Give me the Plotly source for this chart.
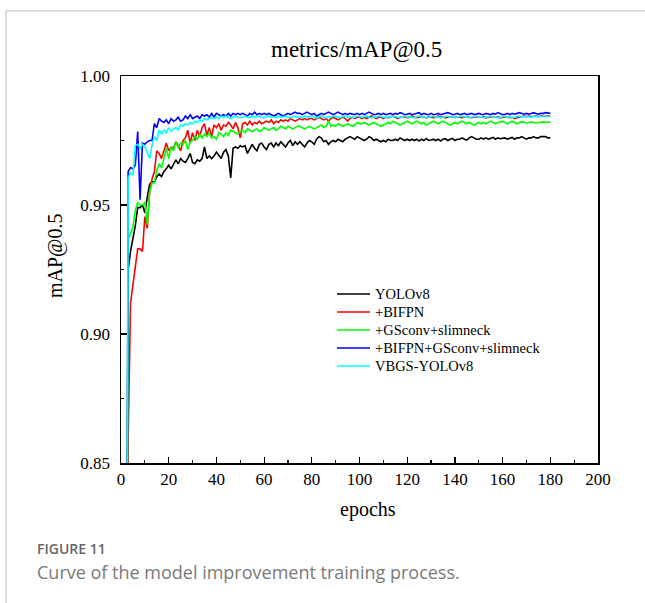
import plotly.graph_objects as go

epochs = list(range(1, 181))

yolov8 = [
    0.400, 0.700, 0.925, 0.932, 0.937, 0.942, 0.949, 0.949, 0.950, 0.947,
    0.953, 0.958, 0.959, 0.959, 0.961, 0.962, 0.961, 0.963, 0.964, 0.9655,
    0.964, 0.966, 0.9675, 0.966, 0.968, 0.967, 0.9665, 0.968, 0.970, 0.9665,
    0.966, 0.9675, 0.967, 0.968, 0.9725, 0.968, 0.969, 0.968, 0.969, 0.9705,
    0.969, 0.968, 0.9705, 0.9715, 0.969, 0.9605, 0.972, 0.9725, 0.972, 0.973,
    0.9725, 0.973, 0.970, 0.9715, 0.9735, 0.972, 0.971, 0.9735, 0.974, 0.9725,
    0.9715, 0.9735, 0.974, 0.9725, 0.974, 0.973, 0.9745, 0.9735, 0.9725, 0.974,
    0.975, 0.973, 0.9745, 0.9735, 0.9745, 0.9735, 0.9725, 0.974, 0.975, 0.9745,
    0.9735, 0.9755, 0.9765, 0.976, 0.9745, 0.975, 0.9735, 0.9745, 0.975, 0.9745,
    0.9755, 0.975, 0.9745, 0.9755, 0.976, 0.9765, 0.976, 0.9755, 0.9765, 0.976,
    0.9755, 0.975, 0.9755, 0.9765, 0.976, 0.975, 0.9755, 0.975, 0.9745, 0.975,
    0.9745, 0.9755, 0.975, 0.975, 0.9755, 0.975, 0.976, 0.9755, 0.975, 0.9755,
    0.975, 0.9755, 0.975, 0.9755, 0.9748, 0.9755, 0.975, 0.9758, 0.975, 0.9752,
    0.9755, 0.975, 0.9755, 0.9748, 0.9755, 0.9757, 0.975, 0.9755, 0.9758, 0.975,
    0.9755, 0.9755, 0.976, 0.9755, 0.9752, 0.976, 0.9765, 0.976, 0.9755, 0.9755,
    0.976, 0.9755, 0.976, 0.9755, 0.976, 0.9762, 0.9755, 0.976, 0.9757, 0.976,
    0.976, 0.9755, 0.976, 0.9762, 0.9755, 0.976, 0.976, 0.9765, 0.976, 0.9755,
    0.976, 0.976, 0.9765, 0.976, 0.976, 0.9765, 0.9765, 0.9765, 0.976, 0.976,
]

bifpn = [
    0.300, 0.550, 0.860, 0.912, 0.920, 0.926, 0.933, 0.933, 0.932, 0.9455,
    0.941, 0.955, 0.960, 0.963, 0.971, 0.970, 0.968, 0.9715, 0.974, 0.971,
    0.9725, 0.972, 0.9745, 0.973, 0.971, 0.975, 0.976, 0.979, 0.974, 0.978,
    0.975, 0.979, 0.9765, 0.980, 0.9815, 0.977, 0.980, 0.9765, 0.981, 0.980,
    0.9815, 0.979, 0.981, 0.9805, 0.982, 0.981, 0.9795, 0.982, 0.980, 0.976,
    0.9815, 0.982, 0.981, 0.9825, 0.981, 0.982, 0.9815, 0.9825, 0.9815, 0.982,
    0.9825, 0.982, 0.983, 0.9815, 0.9825, 0.982, 0.983, 0.9825, 0.983, 0.9825,
    0.9835, 0.983, 0.9825, 0.983, 0.9835, 0.983, 0.9835, 0.983, 0.9835, 0.9835,
    0.983, 0.9835, 0.984, 0.9835, 0.983, 0.9835, 0.9825, 0.9835, 0.984, 0.9835,
    0.983, 0.9835, 0.984, 0.9835, 0.9825, 0.9835, 0.984, 0.9835, 0.984, 0.984,
    0.9835, 0.984, 0.9835, 0.984, 0.9845, 0.984, 0.9835, 0.984, 0.984, 0.9835,
    0.984, 0.9838, 0.984, 0.9845, 0.984, 0.9835, 0.984, 0.9842, 0.984, 0.9838,
    0.984, 0.9845, 0.984, 0.9838, 0.984, 0.9842, 0.984, 0.9838, 0.9842, 0.984,
    0.9838, 0.984, 0.9845, 0.984, 0.9842, 0.9838, 0.984, 0.9842, 0.984, 0.984,
    0.9842, 0.984, 0.9838, 0.984, 0.9842, 0.984, 0.9838, 0.984, 0.9842, 0.984,
    0.984, 0.9842, 0.9838, 0.984, 0.9842, 0.984, 0.984, 0.9842, 0.9838, 0.984,
    0.9842, 0.984, 0.9838, 0.984, 0.9835, 0.9838, 0.984, 0.9842, 0.9845, 0.9842,
    0.9845, 0.9842, 0.9845, 0.9845, 0.9842, 0.9845, 0.9847, 0.9845, 0.9845, 0.9845,
]

gsconv = [
    0.300, 0.600, 0.937, 0.939, 0.9415, 0.948, 0.951, 0.950, 0.950, 0.951,
    0.9425, 0.955, 0.9585, 0.9585, 0.9635, 0.966, 0.9645, 0.968, 0.972, 0.968,
    0.9725, 0.971, 0.9745, 0.972, 0.974, 0.9735, 0.975, 0.9715, 0.9745, 0.975,
    0.9765, 0.9755, 0.9775, 0.976, 0.9775, 0.9765, 0.978, 0.976, 0.9765, 0.9755,
    0.978, 0.9775, 0.9765, 0.978, 0.977, 0.979, 0.9785, 0.978, 0.9775, 0.9785,
    0.979, 0.978, 0.9795, 0.979, 0.9785, 0.979, 0.9795, 0.9785, 0.979, 0.980,
    0.9795, 0.979, 0.9795, 0.980, 0.979, 0.9795, 0.9805, 0.980, 0.9795, 0.9805,
    0.980, 0.9795, 0.980, 0.9805, 0.9805, 0.980, 0.9795, 0.980, 0.9805, 0.980,
    0.9795, 0.980, 0.9805, 0.981, 0.980, 0.9805, 0.9825, 0.9805, 0.981, 0.9805,
    0.9815, 0.981, 0.9805, 0.981, 0.9815, 0.981, 0.9805, 0.981, 0.982, 0.9815,
    0.9815, 0.982, 0.9815, 0.981, 0.9815, 0.982, 0.9815, 0.981, 0.9805, 0.981,
    0.9815, 0.982, 0.9815, 0.9825, 0.982, 0.9815, 0.981, 0.9815, 0.982, 0.9825,
    0.982, 0.9815, 0.982, 0.9825, 0.982, 0.9815, 0.982, 0.981, 0.9815, 0.982,
    0.9825, 0.982, 0.9815, 0.982, 0.9825, 0.982, 0.9815, 0.981, 0.9815, 0.982,
    0.9815, 0.982, 0.9825, 0.982, 0.9815, 0.982, 0.9815, 0.981, 0.9815, 0.982,
    0.9815, 0.982, 0.9815, 0.982, 0.9825, 0.982, 0.9815, 0.982, 0.982, 0.9825,
    0.982, 0.9815, 0.982, 0.9825, 0.982, 0.9815, 0.982, 0.9822, 0.982, 0.9818,
    0.982, 0.9822, 0.982, 0.9818, 0.982, 0.9822, 0.9822, 0.982, 0.9822, 0.9822,
]

bifpn_gsconv = [
    0.300, 0.600, 0.963, 0.9645, 0.964, 0.9655, 0.9785, 0.952, 0.974, 0.9735,
    0.9745, 0.975, 0.975, 0.9815, 0.980, 0.9835, 0.9825, 0.982, 0.983, 0.9815,
    0.9835, 0.9825, 0.983, 0.984, 0.9825, 0.983, 0.9845, 0.9835, 0.985, 0.9835,
    0.984, 0.9845, 0.9835, 0.985, 0.9845, 0.985, 0.984, 0.9855, 0.984, 0.9855,
    0.985, 0.9845, 0.985, 0.9845, 0.9855, 0.9845, 0.9855, 0.985, 0.9855, 0.985,
    0.9855, 0.985, 0.9845, 0.9855, 0.985, 0.986, 0.985, 0.9855, 0.985, 0.9855,
    0.985, 0.9855, 0.985, 0.9845, 0.985, 0.9855, 0.985, 0.9845, 0.985, 0.9855,
    0.985, 0.9855, 0.986, 0.9855, 0.9855, 0.985, 0.9855, 0.986, 0.9855, 0.985,
    0.9855, 0.9845, 0.985, 0.9855, 0.985, 0.9855, 0.986, 0.9855, 0.985, 0.9855,
    0.986, 0.9855, 0.985, 0.9855, 0.985, 0.9855, 0.9852, 0.985, 0.9855, 0.985,
    0.9855, 0.985, 0.9855, 0.986, 0.9855, 0.985, 0.9852, 0.9855, 0.985, 0.9855,
    0.985, 0.9852, 0.9855, 0.985, 0.9855, 0.9852, 0.9858, 0.9855, 0.985, 0.9852,
    0.9855, 0.985, 0.9852, 0.9855, 0.9858, 0.985, 0.9855, 0.9852, 0.985, 0.9855,
    0.985, 0.9852, 0.9855, 0.985, 0.9852, 0.9855, 0.9858, 0.9855, 0.985, 0.9852,
    0.9855, 0.985, 0.9852, 0.9855, 0.985, 0.9852, 0.9855, 0.985, 0.9852, 0.9855,
    0.9852, 0.985, 0.9855, 0.9852, 0.985, 0.9855, 0.9852, 0.9858, 0.9855, 0.985,
    0.9852, 0.9855, 0.985, 0.9855, 0.9852, 0.9855, 0.9858, 0.9855, 0.9852, 0.9855,
    0.9852, 0.9855, 0.9858, 0.9855, 0.9852, 0.9855, 0.9855, 0.9858, 0.9855, 0.9855,
]

vbgs_yolov8 = [
    0.300, 0.600, 0.9605, 0.9625, 0.9615, 0.973, 0.9735, 0.972, 0.9735, 0.9725,
    0.970, 0.968, 0.973, 0.9765, 0.975, 0.979, 0.9775, 0.979, 0.978, 0.980,
    0.9785, 0.9795, 0.980, 0.979, 0.981, 0.9805, 0.9815, 0.981, 0.982, 0.9815,
    0.9825, 0.982, 0.983, 0.9825, 0.9835, 0.983, 0.9835, 0.984, 0.9835, 0.984,
    0.9835, 0.9845, 0.984, 0.9845, 0.984, 0.9835, 0.984, 0.9845, 0.984, 0.9838,
    0.984, 0.9845, 0.984, 0.9838, 0.9845, 0.984, 0.9842, 0.9845, 0.984, 0.9838,
    0.9842, 0.9845, 0.984, 0.9842, 0.9838, 0.9845, 0.984, 0.9842, 0.9845, 0.984,
    0.9838, 0.9842, 0.9845, 0.984, 0.9842, 0.9838, 0.9845, 0.984, 0.9842, 0.9845,
    0.984, 0.9838, 0.9842, 0.9845, 0.984, 0.9838, 0.9842, 0.984, 0.9845, 0.9842,
    0.984, 0.9838, 0.9842, 0.9845, 0.984, 0.9842, 0.9838, 0.984, 0.9845, 0.9842,
    0.984, 0.9842, 0.9845, 0.984, 0.9838, 0.9842, 0.984, 0.9845, 0.9842, 0.984,
    0.9838, 0.9842, 0.984, 0.9845, 0.9842, 0.984, 0.9838, 0.9842, 0.9845, 0.984,
    0.9842, 0.984, 0.9838, 0.9842, 0.9845, 0.984, 0.9842, 0.9838, 0.984, 0.9842,
    0.9845, 0.984, 0.9842, 0.9838, 0.984, 0.9842, 0.9845, 0.984, 0.9842, 0.9838,
    0.984, 0.9842, 0.9845, 0.984, 0.9842, 0.9838, 0.984, 0.9842, 0.9845, 0.984,
    0.9842, 0.9838, 0.984, 0.9842, 0.9845, 0.984, 0.9842, 0.9838, 0.984, 0.9842,
    0.9845, 0.984, 0.9842, 0.9838, 0.984, 0.9842, 0.9845, 0.984, 0.9842, 0.9845,
    0.9842, 0.984, 0.9845, 0.9842, 0.9845, 0.9842, 0.9845, 0.9845, 0.9842, 0.9845,
]

series_names = ["YOLOv8", "+BIFPN", "+GSconv+slimneck", "+BIFPN+GSconv+slimneck", "VBGS-YOLOv8"]
series_values = [yolov8, bifpn, gsconv, bifpn_gsconv, vbgs_yolov8]
series_colors = ["#000000", "#ff0000", "#00ff00", "#0000ff", "#00ffff"]

x_ticks = [0, 20, 40, 60, 80, 100, 120, 140, 160, 180, 200]
y_ticks = [0.85, 0.90, 0.95, 1.00]

SERIF = "Liberation Serif, Times New Roman, serif"
SANS = "Open Sans, sans-serif"

W, H = 645, 603
L, R, T, B = 121, 598, 76, 463


def px(xp):
    return (xp - L) / (R - L)


def py(yp):
    return (B - yp) / (B - T)


fig = go.Figure()
for name, vals, col in zip(series_names, series_values, series_colors):
    fig.add_trace(go.Scatter(x=epochs, y=vals, mode="lines", name=name,
                             line=dict(color=col, width=1.6), showlegend=False,
                             hoverinfo="skip"))

axis_common = dict(showgrid=False, zeroline=False, showline=True, linecolor="black",
                   linewidth=1.5, mirror=True, ticks="inside", tickcolor="black",
                   tickwidth=1.2, ticklen=6,
                   tickfont=dict(family=SERIF, size=17, color="black"))

fig.update_xaxes(range=[0, 200], tickvals=x_ticks,
                 minor=dict(ticks="inside", dtick=10, ticklen=3, tickcolor="black", tickwidth=1.2),
                 **axis_common)
fig.update_yaxes(range=[0.85, 1.0], tickvals=y_ticks, tickformat=".2f", ticklabelstandoff=6,
                 minor=dict(ticks="inside", dtick=0.025, ticklen=3, tickcolor="black", tickwidth=1.2),
                 **axis_common)

# legend (drawn as line samples + labels)
legend_rows_y = [294, 312, 330, 348, 366]
shapes = [
    dict(type="line", xref="paper", yref="paper", x0=px(6), x1=px(660), y0=py(11), y1=py(11),
         line=dict(color="#d0d0d0", width=1.5)),
    dict(type="line", xref="paper", yref="paper", x0=px(6), x1=px(6), y0=py(11), y1=py(620),
         line=dict(color="#d0d0d0", width=1.5)),
]
annotations = [
    dict(text="metrics/mAP@0.5", x=px(356), y=py(50), xref="paper", yref="paper",
         showarrow=False, xanchor="center", yanchor="middle",
         font=dict(family=SERIF, size=23, color="black")),
    dict(text="mAP@0.5", x=px(55), y=py(256), xref="paper", yref="paper",
         showarrow=False, xanchor="center", yanchor="middle", textangle=-90,
         font=dict(family=SERIF, size=20, color="black")),
    dict(text="epochs", x=px(368), y=py(510), xref="paper", yref="paper",
         showarrow=False, xanchor="center", yanchor="middle",
         font=dict(family=SERIF, size=20, color="black")),
    dict(text="FIGURE 11", x=px(35), y=py(548), xref="paper", yref="paper",
         showarrow=False, xanchor="left", yanchor="middle",
         font=dict(family=SANS, size=14, color="#666666", weight=600)),
    dict(text="Curve of the model improvement training process.", x=px(35), y=py(572),
         xref="paper", yref="paper", showarrow=False, xanchor="left", yanchor="middle",
         font=dict(family=SANS, size=18, color="#7a7a7a")),
]
for name, col, ry in zip(series_names, series_colors, legend_rows_y):
    shapes.append(dict(type="line", xref="paper", yref="paper", x0=px(337), x1=px(370),
                       y0=py(ry), y1=py(ry), line=dict(color=col, width=1.5)))
    annotations.append(dict(text=name, x=px(373), y=py(ry), xref="paper", yref="paper",
                            showarrow=False, xanchor="left", yanchor="middle",
                            font=dict(family=SERIF, size=14.5, color="black")))

fig.update_layout(
    width=W, height=H,
    margin=dict(l=L, r=W - R, t=T, b=H - B, autoexpand=False),
    paper_bgcolor="white", plot_bgcolor="white",
    showlegend=False,
    hovermode=False,
    annotations=annotations,
    shapes=shapes,
)

fig.write_html("out.html", config={"displayModeBar": False, "staticPlot": True},
               post_script="document.body.style.margin='0px';")
